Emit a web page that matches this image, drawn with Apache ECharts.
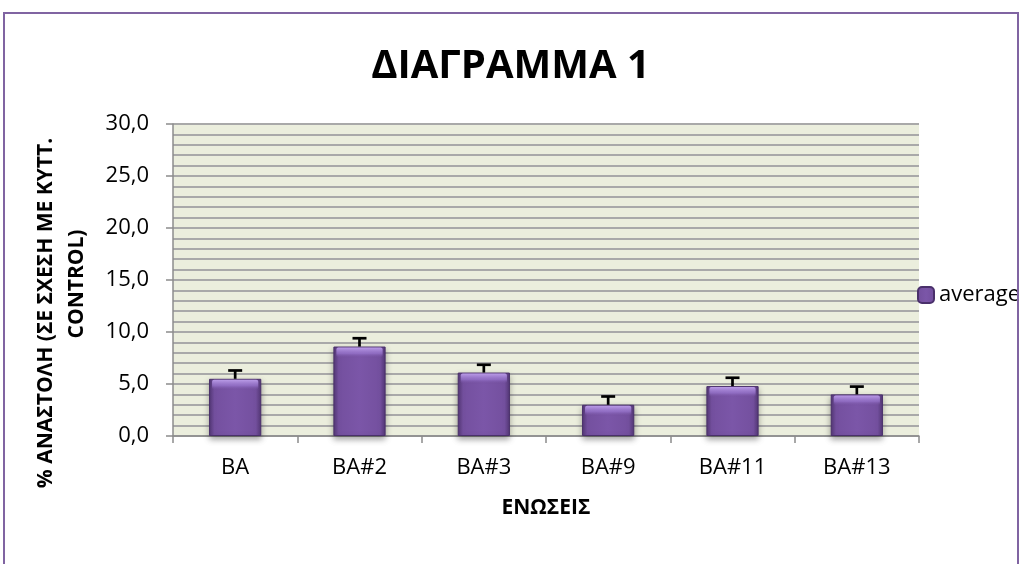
<!DOCTYPE html>
<html><head><meta charset="utf-8">
<script src="https://cdn.jsdelivr.net/npm/echarts@6/dist/echarts.min.js"></script>
<style>html,body{margin:0;padding:0;background:#fff}#c{width:1021px;height:564px}</style>
</head><body><div id="c"></div>
<script>
const categories = ['BA', 'BA#2', 'BA#3', 'BA#9', 'BA#11', 'BA#13'];
const averageValues = [5.5, 8.6, 6.1, 3.0, 4.8, 4.0];
const errorValues = [0.8, 0.8, 0.75, 0.8, 0.8, 0.75];
const yTicks = [0, 5, 10, 15, 20, 25, 30];

const FONT = 'Open Sans';
const chart = echarts.init(document.getElementById('c'));
const barColor = {
  type: 'linear', x: 0, y: 0, x2: 1, y2: 0,
  colorStops: [
    {offset: 0, color: '#553878'},
    {offset: 0.1, color: '#74509f'},
    {offset: 0.5, color: '#7b56a8'},
    {offset: 0.9, color: '#74509f'},
    {offset: 1, color: '#553878'}
  ]
};
chart.setOption({
  animation: false,
  backgroundColor: '#fff',
  title: {
    text: 'ΔΙΑΓΡΑΜΜΑ 1', left: 'center', top: 42,
    textStyle: {fontFamily: FONT, fontSize: 40, fontWeight: 'bold', color: '#000'}
  },
  legend: {
    data: ['average'], left: 912, top: 279, itemWidth: 16, itemHeight: 16,
    textStyle: {fontFamily: FONT, fontSize: 22, color: '#000'}
  },
  grid: {left: 173, right: 102, top: 124, bottom: 128, show: true, backgroundColor: '#ebeedd', borderWidth: 0},
  xAxis: {
    type: 'category', data: categories,
    name: 'ΕΝΩΣΕΙΣ', nameLocation: 'middle', nameGap: 62,
    nameTextStyle: {fontFamily: FONT, fontSize: 21, fontWeight: 'bold', color: '#000'},
    axisLine: {lineStyle: {color: '#8c8c8c', width: 1.5}},
    axisTick: {show: true, length: 7, lineStyle: {color: '#8c8c8c', width: 1.5}},
    axisLabel: {fontFamily: FONT, fontSize: 22, color: '#000', margin: 21}
  },
  yAxis: {
    type: 'value', min: 0, max: 30, interval: 5,
    axisLine: {show: true, lineStyle: {color: '#8c8c8c', width: 1.5}},
    axisTick: {show: true, length: 7, lineStyle: {color: '#8c8c8c', width: 1.5}},
    axisLabel: {fontFamily: FONT, fontSize: 22, color: '#000', margin: 24,
      formatter: v => yTicks.includes(v) ? v.toFixed(1).replace('.', ',') : ''},
    splitLine: {show: true, lineStyle: {color: '#a9a9a9', width: 2}},
    minorTick: {show: false, splitNumber: 5},
    minorSplitLine: {show: true, lineStyle: {color: '#a9a9a9', width: 2}}
  },
  graphic: [
    {type: 'rect', shape: {x: 4, y: 13, width: 1014, height: 600},
     style: {fill: 'none', stroke: '#8064a2', lineWidth: 2}, z: 100},
    {type: 'text', x: 46, y: 313, rotation: Math.PI / 2,
     style: {text: '% ΑΝΑΣΤΟΛΗ (ΣΕ ΣΧΕΣΗ ΜΕ ΚΥΤΤ.', fontFamily: FONT, fontSize: 21, fontWeight: 'bold', fill: '#000', textAlign: 'center', textVerticalAlign: 'middle'}},
    {type: 'text', x: 77, y: 284, rotation: Math.PI / 2,
     style: {text: 'CONTROL)', fontFamily: FONT, fontSize: 21, fontWeight: 'bold', fill: '#000', textAlign: 'center', textVerticalAlign: 'middle'}}
  ],
  series: [
    {
      name: 'average', type: 'bar', data: averageValues, barWidth: '42%',
      itemStyle: {color: barColor, borderColor: '#4a306b', borderWidth: 1,
        shadowColor: 'rgba(0,0,0,0.35)', shadowBlur: 6, shadowOffsetY: 3},
      z: 2
    },
    {
      name: 'highlight', type: 'custom', z: 3, silent: true,
      data: averageValues.map((v, i) => [i, v]),
      renderItem: function (params, api) {
        const top = api.coord([api.value(0), api.value(1)]);
        const w = api.size([1, 0])[0] * 0.42;
        return {type: 'rect', shape: {x: top[0] - w / 2 + 3, y: top[1] + 1, width: w - 6, height: 10, r: 2},
          style: {fill: {type: 'linear', x: 0, y: 0, x2: 0, y2: 1, colorStops: [
            {offset: 0, color: 'rgba(190,160,235,0.95)'},
            {offset: 0.6, color: 'rgba(160,125,215,0.6)'},
            {offset: 1, color: 'rgba(123,86,168,0)'}]}}};
      }
    },
    {
      name: 'err', type: 'custom', z: 4,
      data: averageValues.map((v, i) => [i, v, v + errorValues[i]]),
      renderItem: function (params, api) {
        const base = api.coord([api.value(0), api.value(1)]);
        const top = api.coord([api.value(0), api.value(2)]);
        const hw = 7;
        return {type: 'group', children: [
          {type: 'line', shape: {x1: base[0], y1: base[1], x2: top[0], y2: top[1]}, style: {stroke: '#000', lineWidth: 2.7}},
          {type: 'line', shape: {x1: top[0] - hw, y1: top[1], x2: top[0] + hw, y2: top[1]}, style: {stroke: '#000', lineWidth: 2.7}}
        ]};
      }
    }
  ]
});
</script></body></html>
